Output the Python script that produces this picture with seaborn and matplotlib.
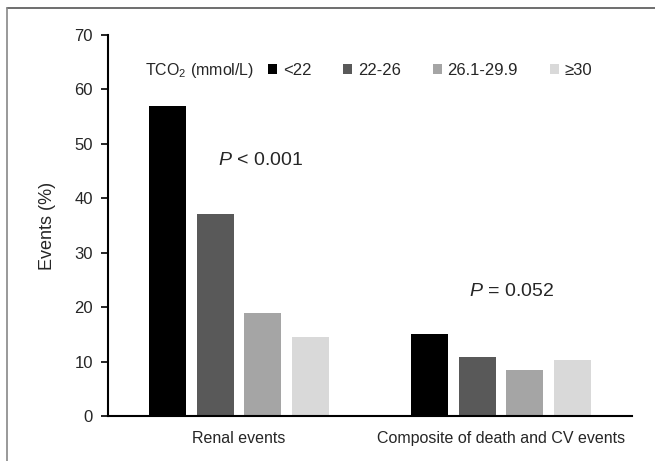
"""Events by TCO2 category: grouped bar chart."""
import matplotlib

matplotlib.use("Agg")
import matplotlib.pyplot as plt  # noqa: E402
import pandas as pd  # noqa: E402
import seaborn as sns  # noqa: E402
from matplotlib.lines import Line2D  # noqa: E402

outcomes = ["Renal events", "Composite of death and CV events"]
tco2_groups = ["<22", "22-26", "26.1-29.9", "≥30"]
renal_pct = [57.0, 37.2, 18.9, 14.5]
composite_pct = [15.0, 10.9, 8.5, 10.3]
p_labels = ["$P$ < 0.001", "$P$ = 0.052"]

colours = ["#000000", "#595959", "#a5a5a5", "#d9d9d9"]

df = pd.DataFrame({
    "outcome": [outcomes[0]] * 4 + [outcomes[1]] * 4,
    "tco2": tco2_groups * 2,
    "pct": renal_pct + composite_pct,
})

sns.set_style("white")
plt.rcParams["font.family"] = ["Liberation Sans", "DejaVu Sans"]
plt.rcParams["mathtext.fontset"] = "custom"
plt.rcParams["mathtext.rm"] = "Liberation Sans"
plt.rcParams["mathtext.it"] = "Liberation Sans:italic"

fig = plt.figure(figsize=(6.55, 4.61), dpi=100)
ax = fig.add_axes([0.165, 0.0976, 0.80, 0.8264])

sns.barplot(data=df, x="outcome", y="pct", hue="tco2", order=outcomes,
            hue_order=tco2_groups, palette=colours, width=0.725, gap=0.22,
            linewidth=0, ax=ax)

ax.set_xlim(-0.5, 1.5)
ax.set_ylim(0, 70)
ax.set_yticks(range(0, 71, 10))
ax.set_xlabel("")
ax.set_ylabel("Events (%)", fontsize=13)
ax.yaxis.set_label_coords(-0.10, 0.5)
ax.tick_params(axis="y", direction="out", length=5, width=1.2, left=True,
               labelsize=12, pad=6, color="black")
ax.tick_params(axis="x", length=0, labelsize=11.5, pad=11)
ax.spines[["top", "right"]].set_visible(False)
for s in ("left", "bottom"):
    ax.spines[s].set_color("black")
    ax.spines[s].set_linewidth(1.5)

# P-values
ax.text(0.08, 47.0, p_labels[0], ha="center", va="center", fontsize=14)
ax.text(1.04, 22.8, p_labels[1], ha="center", va="center", fontsize=14)

# legend with title on the left
handles, labels = ax.get_legend_handles_labels()
ax.legend(handles, labels, loc="center left", bbox_to_anchor=(0.305, 0.906),
          ncol=4, frameon=False, fontsize=12, handlelength=0.55,
          handleheight=0.55, handletextpad=0.35, columnspacing=1.9,
          borderpad=0, borderaxespad=0)
ax.text(0.071, 0.906, "TCO$_2$ (mmol/L)", transform=ax.transAxes,
        ha="left", va="center", fontsize=11.5)

# partial frame around the figure
fig.add_artist(Line2D([7 / 655, 1], [1 - 8 / 461, 1 - 8 / 461],
                      transform=fig.transFigure, color="#555555", lw=1.2))
fig.add_artist(Line2D([7 / 655, 7 / 655], [0, 1 - 8 / 461],
                      transform=fig.transFigure, color="#888888", lw=1.2))

fig.savefig("out.png", dpi=100)
plt.close(fig)
